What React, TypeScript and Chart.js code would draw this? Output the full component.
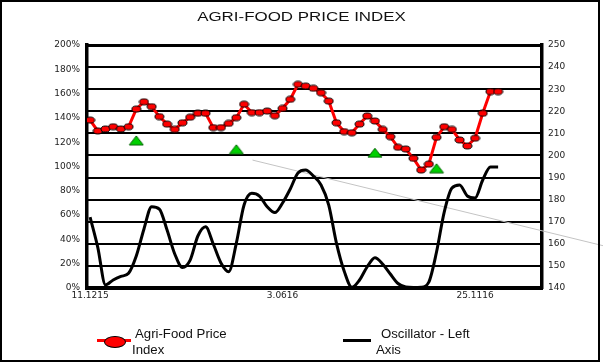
import React, { useEffect, useRef } from "react";
import { Chart, registerables } from "chart.js";

Chart.register(...registerables);

// ---- data ----
const xTickWeeks = [0, 25, 50];
const xTickLabels = ["11.1215", "3.0616", "25.1116"];

const leftTicks = [0, 20, 40, 60, 80, 100, 120, 140, 160, 180, 200];
const rightTicks = [140, 150, 160, 170, 180, 190, 200, 210, 220, 230, 240, 250];

// Agri-Food Price Index (right axis), weekly
const priceIndex = [
  216.0, 211.1, 212.0, 213.0, 212.0, 213.0, 221.0, 224.3, 222.1, 217.6,
  214.2, 211.8, 214.8, 217.3, 219.1, 219.1, 212.6, 212.6, 214.5, 217.1,
  223.2, 219.4, 219.4, 220.1, 218.0, 221.3, 225.4, 232.2, 231.4, 230.4,
  228.4, 224.6, 214.8, 210.8, 210.3, 214.2, 217.9, 215.6, 211.8, 208.5,
  203.7, 202.9, 198.7, 193.4, 196.1, 208.2, 213.0, 211.8, 207.0, 204.3,
  207.8, 219.1, 228.9, 228.9,
];

// Oscillator (left axis, %), weekly
const oscillator = [
  58.4, 33.5, 2.5, 6.6, 9.5, 12.1, 26.3, 48.6, 66.9, 65.0,
  47.7, 28.0, 16.9, 23.0, 42.8, 50.4, 36.2, 20.6, 13.4, 37.0,
  68.3, 77.9, 75.7, 66.9, 62.1, 70.0, 81.5, 94.7, 97.1, 92.2,
  84.8, 68.3, 37.0, 14.0, 0.6, 6.6, 17.5, 24.9, 19.8, 11.5,
  3.7, 0.8, 0.4, 0.6, 4.9, 29.6, 62.5, 82.3, 84.8, 75.7,
  74.1, 88.9, 99.6, 99.6,
];

// green signal triangles (right axis)
const signalWeeks = [6, 19, 37, 45];
const signalLevels = [206.8, 202.8, 201.2, 194.2];

// grey trend line (right axis)
const trendWeeks = [21.1, 66.8];
const trendLevels = [197.9, 159.0];

function makeEllipse(): HTMLCanvasElement {
  const c = document.createElement("canvas");
  c.width = 11;
  c.height = 8;
  const g = c.getContext("2d")!;
  g.beginPath();
  g.ellipse(5.5, 4, 4.5, 3, 0, 0, Math.PI * 2);
  g.fillStyle = "#ff0000";
  g.fill();
  g.lineWidth = 1;
  g.strokeStyle = "#000";
  g.stroke();
  return c;
}

function makeTriangle(): HTMLCanvasElement {
  const c = document.createElement("canvas");
  c.width = 16;
  c.height = 11;
  const g = c.getContext("2d")!;
  g.beginPath();
  g.moveTo(8, 1);
  g.lineTo(15, 10);
  g.lineTo(1, 10);
  g.closePath();
  g.fillStyle = "#00d000";
  g.fill();
  g.lineWidth = 1;
  g.strokeStyle = "#006400";
  g.stroke();
  return c;
}

const tickFont = { family: '"DejaVu Sans", sans-serif', size: 9 };
const tickColor = "#222";

export default function App() {
  const ref = useRef<HTMLCanvasElement | null>(null);

  useEffect(() => {
    if (!ref.current) return;
    const ellipse = makeEllipse();
    const tri = makeTriangle();
    const chart = new Chart(ref.current, {
      type: "line",
      data: {
        datasets: [
          {
            label: "signals",
            data: signalWeeks.map((w, i) => ({ x: w, y: signalLevels[i] })),
            yAxisID: "yR",
            xAxisID: "x",
            showLine: false,
            pointStyle: tri as any,
            pointRadius: 6,
          },
          {
            label: "Agri-Food Price Index",
            data: priceIndex.map((v, i) => ({ x: i, y: v })),
            yAxisID: "yR",
            xAxisID: "x",
            borderColor: "#ff0000",
            borderWidth: 3,
            pointStyle: ellipse as any,
            pointRadius: 4,
            tension: 0,
          },
          {
            label: "Oscillator - Left Axis",
            data: oscillator.map((v, i) => ({ x: i, y: v })),
            yAxisID: "yL",
            xAxisID: "x",
            borderColor: "#000",
            borderWidth: 3,
            pointRadius: 0,
            cubicInterpolationMode: "monotone",
          },
          {
            label: "trend",
            data: trendWeeks.map((w, i) => ({ x: w, y: trendLevels[i] })),
            yAxisID: "yR",
            xAxisID: "x",
            borderColor: "#c4c4c4",
            borderWidth: 1,
            pointRadius: 0,
            clip: false as any,
          },
        ],
      },
      options: {
        responsive: false,
        animation: false,
        events: [],
        layout: { padding: { top: 45, left: 0, right: 0, bottom: 0 } },
        plugins: {
          legend: { display: false },
          tooltip: { enabled: false },
          title: { display: false },
        },
        scales: {
          x: {
            type: "linear",
            position: "bottom",
            min: -0.4,
            max: 58.7,
            grid: { display: false, drawTicks: false },
            border: { display: true, color: "#000", width: 4 },
            ticks: {
              autoSkip: false,
              maxRotation: 0,
              padding: 2,
              font: tickFont,
              color: tickColor,
              callback: (v: any) => {
                const k = xTickWeeks.indexOf(Number(v));
                return k >= 0 ? xTickLabels[k] : "";
              },
            },
            afterBuildTicks: (s: any) => {
              s.ticks = xTickWeeks.map((v) => ({ value: v }));
            },
            afterFit: (s: any) => {
              s.height = 75;
            },
          },
          yL: {
            type: "linear",
            position: "left",
            min: leftTicks[0],
            max: leftTicks[leftTicks.length - 1],
            grid: { display: false, drawTicks: false },
            border: { display: true, color: "#000", width: 3.5 },
            ticks: {
              stepSize: 20,
              padding: 7,
              font: tickFont,
              color: tickColor,
              callback: (v: any) => `${v}%`,
            },
            afterBuildTicks: (s: any) => {
              s.ticks = leftTicks.map((v) => ({ value: v }));
            },
            afterFit: (s: any) => {
              s.width = 87;
            },
          },
          yR: {
            type: "linear",
            position: "right",
            min: rightTicks[0],
            max: rightTicks[rightTicks.length - 1],
            grid: {
              display: true,
              drawTicks: false,
              color: "#000",
              lineWidth: (c: any) => (c.tick && c.tick.value === 250 ? 3 : 2),
            },
            border: { display: true, color: "#000", width: 3.5 },
            ticks: {
              stepSize: 10,
              padding: 6,
              font: tickFont,
              color: tickColor,
              callback: (v: any) => String(v),
            },
            afterBuildTicks: (s: any) => {
              s.ticks = rightTicks.map((v) => ({ value: v }));
            },
            afterFit: (s: any) => {
              s.width = 61;
            },
          },
        },
      } as any,
    });
    return () => chart.destroy();
  }, []);

  const textBase: React.CSSProperties = {
    position: "absolute",
    fontFamily: '"Liberation Sans", Arial, sans-serif',
    fontSize: 12,
    lineHeight: "15px",
    whiteSpace: "nowrap",
    color: "#111",
  };
  const legendText: React.CSSProperties = {
    ...textBase,
    transform: "scaleX(1.1)",
    transformOrigin: "left top",
  };

  return (
    <div
      style={{
        position: "absolute",
        left: 0,
        top: 0,
        width: 603,
        height: 363,
        background: "#fff",
        overflow: "hidden",
      }}
    >
      <canvas
        ref={ref}
        width={603}
        height={363}
        style={{ position: "absolute", left: 0, top: 0, width: 603, height: 363 }}
      />
      <div
        style={{
          ...textBase,
          left: 0,
          top: 10,
          width: 603,
          textAlign: "center",
          transform: "scaleX(1.41)",
          transformOrigin: "301.5px 0",
        }}
      >
        AGRI-FOOD PRICE INDEX
      </div>

      {/* legend */}
      <div style={{ position: "absolute", left: 97, top: 339, width: 34, height: 3, background: "#ff0000" }} />
      <div
        style={{
          position: "absolute",
          left: 104,
          top: 336,
          width: 22,
          height: 12,
          boxSizing: "border-box",
          borderRadius: "50%",
          background: "#ff0000",
          border: "1.5px solid #000",
        }}
      />
      <div style={{ ...legendText, left: 134.6, top: 327 }}>Agri-Food Price</div>
      <div style={{ ...legendText, left: 132, top: 342.5 }}>Index</div>

      <div style={{ position: "absolute", left: 343, top: 338.5, width: 28, height: 3, background: "#000" }} />
      <div style={{ ...legendText, left: 380.8, top: 327 }}>Oscillator - Left</div>
      <div style={{ ...legendText, left: 376, top: 342.5 }}>Axis</div>

      <div
        style={{
          position: "absolute",
          left: 0,
          top: 0,
          width: 600,
          height: 362,
          boxSizing: "border-box",
          border: "2px solid #000",
          pointerEvents: "none",
        }}
      />
    </div>
  );
}
